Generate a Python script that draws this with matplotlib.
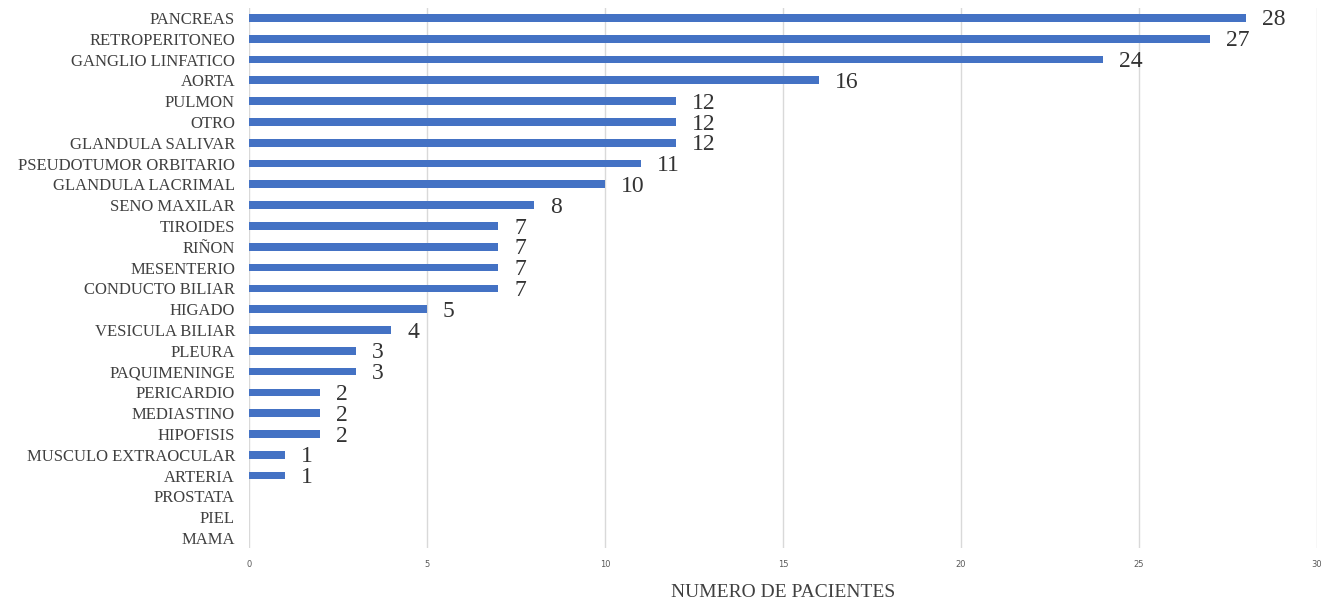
import matplotlib
matplotlib.use("Agg")
import matplotlib.pyplot as plt

categories = [
    "PANCREAS", "RETROPERITONEO", "GANGLIO LINFATICO", "AORTA", "PULMON",
    "OTRO", "GLANDULA SALIVAR", "PSEUDOTUMOR ORBITARIO", "GLANDULA LACRIMAL",
    "SENO MAXILAR", "TIROIDES", "RIÑON", "MESENTERIO", "CONDUCTO BILIAR",
    "HIGADO", "VESICULA BILIAR", "PLEURA", "PAQUIMENINGE", "PERICARDIO",
    "MEDIASTINO", "HIPOFISIS", "MUSCULO EXTRAOCULAR", "ARTERIA", "PROSTATA",
    "PIEL", "MAMA",
]
values = [28, 27, 24, 16, 12, 12, 12, 11, 10, 8, 7, 7, 7, 7, 5, 4, 3, 3,
          2, 2, 2, 1, 1, 0, 0, 0]
xticks = [0, 5, 10, 15, 20, 25, 30]

serif = "Liberation Serif"
fig = plt.figure(figsize=(13.31, 6.01), dpi=100)
ax = fig.add_axes([0.187, 0.0875, 0.8025, 0.9])

ypos = range(len(categories))
ax.barh(ypos, values, height=0.37, color="#4472C4", zorder=3)

for y, v in zip(ypos, values):
    if v > 0:
        ax.text(v + 0.45, y + 0.1, str(v), va="center", ha="left",
                fontsize=17, family=serif, color="#333333")

ax.set_xlim(0, 30)
ax.set_ylim(len(categories) - 0.5, -0.5)
ax.set_yticks(list(ypos))
ax.set_yticklabels(categories, family=serif, fontsize=12, color="#404040")
ax.set_xticks(xticks)
ax.set_xticklabels([str(t) for t in xticks], fontsize=6, color="#595959")
ax.tick_params(axis="y", length=0, pad=10)
ax.tick_params(axis="x", length=0, pad=8)

ax.grid(axis="x", color="#d9d9d9", linewidth=1, zorder=0)
for s in ax.spines.values():
    s.set_visible(False)

ax.set_xlabel("NUMERO DE PACIENTES", family=serif, fontsize=14,
              color="#404040", labelpad=11)

fig.savefig("out.png", dpi=100)
